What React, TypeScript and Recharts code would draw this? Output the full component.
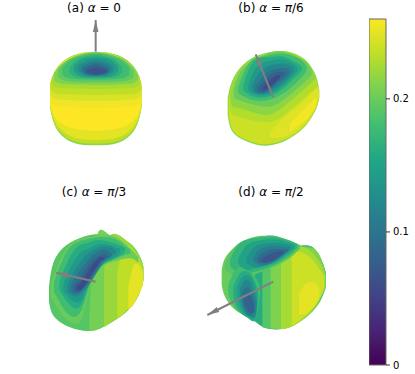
import { Area, Bar, BarChart, ComposedChart, Line, XAxis, YAxis } from "recharts";

type Row = [number, number, number]; // x, upper edge, lower edge
type Layer = { v: number; pts: Row[] };

const viridis = ["#440154", "#482475", "#414487", "#355f8d", "#2a788e", "#21918c", "#22a884", "#44bf70", "#7ad151", "#bddf26", "#fde725"];
const maxValue = 0.26;
const colorbarTicks = [0, 0.1, 0.2];
const colorbarData = [{ name: "c", value: maxValue }];

const panelA: Layer[] = [
  { v: 0.215, pts: [[60, 265, 320], [67, 232, 355], [85, 198, 395], [130, 166, 428], [197, 155, 436], [265, 166, 428], [310, 198, 395], [328, 232, 355], [335, 265, 320]] },
  { v: 0.235, pts: [[60, 265, 318], [67, 255, 351], [85, 250, 390], [130, 250, 423], [197, 250, 431], [265, 250, 423], [310, 250, 390], [328, 255, 351], [335, 265, 318]] },
  { v: 0.25, pts: [[60, 270, 315], [67, 265, 345], [85, 260, 380], [130, 260, 412], [197, 260, 420], [265, 260, 412], [310, 260, 380], [328, 265, 345], [335, 270, 315]] },
  { v: 0.26, pts: [[61, 280, 312], [68, 280, 335], [85, 280, 362], [130, 280, 385], [197, 280, 392], [265, 280, 385], [310, 280, 362], [327, 280, 335], [334, 280, 312]] },
  { v: 0.255, pts: [[61, 270, 298], [68, 240, 312], [100, 185, 320], [197, 156, 325], [292, 185, 320], [327, 240, 312], [334, 270, 298]] },
  { v: 0.245, pts: [[60, 255, 282], [70, 228, 294], [104, 185, 300], [197, 156, 303], [290, 185, 300], [325, 228, 294], [335, 255, 282]] },
  { v: 0.235, pts: [[61, 245, 268], [72, 225, 278], [108, 183, 283], [197, 157, 285], [287, 183, 283], [323, 225, 278], [334, 245, 268]] },
  { v: 0.225, pts: [[65, 232, 252], [78, 212, 262], [112, 181, 265], [197, 157, 267], [283, 181, 265], [317, 212, 262], [330, 232, 252]] },
  { v: 0.21, pts: [[72, 222, 240], [88, 200, 250], [122, 176, 253], [197, 157, 255], [273, 176, 253], [307, 200, 250], [323, 222, 240]] },
  { v: 0.195, pts: [[84, 212, 232], [100, 192, 241], [130, 172, 245], [197, 158, 247], [265, 172, 245], [295, 192, 241], [311, 212, 232]] },
  { v: 0.18, pts: [[97, 205, 224], [114, 186, 234], [143, 172, 238], [197, 160, 240], [252, 172, 238], [281, 186, 234], [298, 205, 224]] },
  { v: 0.165, pts: [[118, 202, 218], [132, 186, 229], [150, 175, 233], [197, 165, 235], [245, 175, 233], [263, 186, 229], [277, 202, 218]] },
  { v: 0.145, pts: [[131, 198, 214], [145, 185, 226], [165, 175, 231], [197, 172, 232], [230, 175, 231], [250, 185, 226], [264, 198, 214]] },
  { v: 0.125, pts: [[143, 198, 212], [157, 190, 223], [172, 182, 228], [198, 178, 229], [223, 182, 228], [238, 190, 223], [252, 198, 212]] },
  { v: 0.105, pts: [[153, 201, 213], [165, 195, 222], [180, 188, 226], [198, 185, 227], [215, 188, 226], [230, 195, 222], [242, 201, 213]] },
  { v: 0.085, pts: [[161, 205, 215], [172, 200, 221], [185, 195, 224], [198, 193, 225], [210, 195, 224], [223, 200, 221], [234, 205, 215]] },
  { v: 0.065, pts: [[170, 210, 218], [180, 207, 221], [190, 204, 223], [200, 203, 224], [210, 204, 223], [220, 207, 221], [230, 210, 218]] },
];

const panelB: Layer[] = [
  { v: 0.215, pts: [[53, 295, 345], [62, 255, 385], [85, 210, 412], [125, 175, 430], [165, 160, 437], [220, 153, 425], [280, 175, 385], [312, 215, 340], [322, 240, 318], [328, 270, 295]] },
  { v: 0.24, pts: [[56, 297, 342], [64, 280, 381], [86, 260, 408], [125, 240, 425], [165, 240, 433], [220, 240, 421], [280, 240, 382], [311, 250, 338], [321, 260, 316], [327, 270, 295]] },
  { v: 0.248, pts: [[180, 398, 412], [230, 345, 408], [275, 310, 378], [310, 270, 335], [326, 260, 298]] },
  { v: 0.256, pts: [[240, 372, 394], [270, 340, 374], [295, 315, 352], [318, 290, 318]] },
  { v: 0.23, pts: [[58, 290, 330], [70, 245, 345], [100, 197, 355], [165, 162, 367], [220, 155, 347], [280, 177, 297], [322, 245, 262]] },
  { v: 0.215, pts: [[62, 285, 310], [72, 245, 322], [100, 198, 328], [165, 162, 345], [220, 155, 320], [280, 178, 270], [315, 222, 238]] },
  { v: 0.2, pts: [[72, 270, 295], [100, 205, 305], [165, 164, 320], [220, 156, 300], [280, 181, 250], [305, 212, 225]] },
  { v: 0.18, pts: [[85, 260, 280], [120, 186, 298], [165, 168, 302], [220, 161, 280], [270, 178, 237], [290, 200, 212]] },
  { v: 0.16, pts: [[100, 255, 272], [130, 186, 290], [175, 172, 290], [220, 170, 265], [262, 190, 225], [275, 200, 212]] },
  { v: 0.14, pts: [[115, 255, 272], [140, 200, 285], [180, 182, 282], [225, 180, 252], [262, 200, 212]] },
  { v: 0.12, pts: [[125, 258, 272], [150, 215, 282], [185, 195, 272], [225, 192, 245], [250, 203, 214]] },
  { v: 0.1, pts: [[135, 262, 274], [160, 228, 280], [190, 208, 262], [225, 204, 235], [238, 209, 218]] },
  { v: 0.08, pts: [[145, 264, 274], [165, 240, 275], [190, 220, 255], [215, 215, 232], [225, 217, 224]] },
  { v: 0.06, pts: [[158, 263, 270], [175, 245, 265], [195, 228, 248], [210, 225, 233]] },
];

const panelC: Layer[] = [
  { v: 0.19, pts: [[57, 320, 365], [66, 262, 400], [85, 220, 422], [120, 188, 442], [180, 165, 453], [240, 165, 430], [300, 190, 385], [332, 235, 330], [340, 260, 300]] },
  { v: 0.205, pts: [[178, 400, 452], [200, 170, 450], [240, 166, 430], [300, 191, 385], [332, 236, 330], [340, 260, 300]] },
  { v: 0.22, pts: [[222, 300, 442], [240, 167, 430], [300, 192, 385], [332, 237, 330], [340, 262, 298]] },
  { v: 0.235, pts: [[262, 280, 416], [285, 200, 395], [320, 225, 350], [340, 270, 305]] },
  { v: 0.25, pts: [[295, 320, 390], [312, 255, 370], [330, 260, 335], [339, 280, 315]] },
  { v: 0.2, pts: [[62, 315, 350], [110, 205, 418], [150, 178, 425], [170, 172, 360], [200, 168, 275], [250, 168, 245], [300, 205, 235], [325, 232, 250]] },
  { v: 0.18, pts: [[72, 305, 335], [110, 215, 398], [145, 185, 405], [170, 178, 345], [200, 172, 272], [250, 175, 240], [285, 197, 225], [300, 208, 222]] },
  { v: 0.16, pts: [[88, 305, 330], [120, 230, 375], [150, 195, 380], [175, 188, 320], [205, 180, 262], [255, 190, 235], [285, 204, 216]] },
  { v: 0.14, pts: [[100, 312, 335], [125, 255, 360], [155, 215, 360], [180, 205, 295], [210, 192, 255], [255, 200, 232], [270, 205, 215]] },
  { v: 0.12, pts: [[112, 315, 335], [135, 270, 350], [170, 225, 325], [220, 200, 250], [258, 210, 220]] },
  { v: 0.1, pts: [[122, 316, 334], [140, 285, 342], [175, 240, 310], [215, 210, 250], [245, 220, 230]] },
  { v: 0.08, pts: [[130, 318, 332], [150, 295, 335], [180, 250, 295], [215, 225, 245], [232, 228, 236]] },
  { v: 0.06, pts: [[140, 315, 328], [155, 305, 328], [185, 258, 285], [210, 232, 245], [222, 234, 240]] },
];

const panelD: Layer[] = [
  { v: 0.2, pts: [[65, 270, 315], [75, 235, 350], [100, 205, 385], [130, 183, 405], [165, 170, 425], [200, 167, 445], [250, 175, 445], [290, 195, 430], [330, 198, 400], [360, 230, 365], [378, 280, 320]] },
  { v: 0.16, pts: [[165, 250, 424], [172, 200, 428], [190, 170, 440], [240, 172, 448], [290, 196, 430], [330, 198, 400], [360, 230, 362], [378, 280, 320]] },
  { v: 0.19, pts: [[187, 240, 440], [195, 180, 444], [240, 175, 447], [290, 198, 430], [330, 199, 400], [360, 232, 358], [377, 280, 320]] },
  { v: 0.21, pts: [[212, 230, 445], [225, 190, 446], [260, 180, 445], [300, 200, 425], [340, 205, 392], [364, 238, 352], [377, 280, 320]] },
  { v: 0.225, pts: [[243, 220, 447], [255, 190, 446], [285, 195, 435], [320, 205, 405], [355, 240, 365], [376, 285, 320]] },
  { v: 0.24, pts: [[275, 230, 438], [285, 215, 432], [320, 225, 405], [350, 255, 372], [372, 290, 325]] },
  { v: 0.25, pts: [[297, 340, 405], [320, 310, 398], [345, 310, 372], [358, 330, 350]] },
  { v: 0.19, pts: [[75, 250, 268], [110, 195, 290], [160, 173, 285], [210, 168, 265], [260, 178, 240], [300, 195, 206]] },
  { v: 0.17, pts: [[90, 240, 258], [120, 190, 280], [165, 175, 275], [215, 170, 258], [260, 180, 232], [292, 192, 204]] },
  { v: 0.15, pts: [[115, 236, 252], [140, 195, 270], [175, 182, 262], [220, 178, 250], [260, 185, 225], [285, 193, 204]] },
  { v: 0.13, pts: [[140, 232, 248], [165, 200, 262], [200, 190, 255], [240, 190, 233], [275, 196, 206]] },
  { v: 0.11, pts: [[160, 233, 246], [180, 208, 255], [215, 198, 250], [250, 200, 225], [268, 201, 210]] },
  { v: 0.09, pts: [[172, 234, 246], [195, 215, 250], [225, 207, 240], [250, 208, 222], [262, 208, 216]] },
  { v: 0.07, pts: [[182, 238, 247], [205, 225, 247], [230, 215, 235], [250, 215, 222]] },
  { v: 0.18, pts: [[85, 315, 345], [110, 265, 390], [140, 270, 410], [165, 290, 420], [180, 320, 345]] },
  { v: 0.16, pts: [[100, 320, 350], [120, 280, 395], [145, 275, 415], [165, 305, 420], [175, 340, 360]] },
  { v: 0.14, pts: [[112, 320, 350], [128, 290, 395], [150, 290, 412], [165, 320, 415], [172, 350, 370]] },
  { v: 0.12, pts: [[120, 328, 352], [135, 300, 398], [152, 310, 410], [165, 345, 410], [170, 365, 385]] },
  { v: 0.1, pts: [[126, 338, 362], [140, 320, 398], [155, 335, 405], [166, 370, 390]] },
  { v: 0.08, pts: [[133, 355, 375], [145, 345, 395], [155, 355, 400], [162, 375, 395]] },
];

const arrowA = [{ x: 197, y: 155 }, { x: 197, y: 60 }];
const arrowB = [{ x: 190, y: 292 }, { x: 137, y: 163 }];
const arrowC = [{ x: 197, y: 305 }, { x: 78, y: 278 }];
const arrowD = [{ x: 220, y: 305 }, { x: 22, y: 405 }];

function color(v: number) {
  const t = (Math.min(v, maxValue) / maxValue) * (viridis.length - 1);
  const i = Math.min(Math.floor(t), viridis.length - 2);
  const f = t - i;
  const ch = (hex: string, p: number) => parseInt(hex.slice(p, p + 2), 16);
  const mix = (p: number) => Math.round(ch(viridis[i], p) * (1 - f) + ch(viridis[i + 1], p) * f);
  return `rgb(${mix(1)},${mix(3)},${mix(5)})`;
}

function Panel({ layers, arrow, left, top }: { layers: Layer[]; arrow: { x: number; y: number }[]; left: number; top: number }) {
  const angle = (Math.atan2(arrow[1].y - arrow[0].y, arrow[1].x - arrow[0].x) * 180) / Math.PI;
  return (
    <div style={{ position: "absolute", left, top, filter: "blur(0.45px)" }}>
      <ComposedChart width={140} height={160} margin={{ top: 0, right: 0, bottom: 0, left: 0 }}>
        <XAxis type="number" dataKey="x" domain={[0, 420]} hide allowDataOverflow />
        <YAxis type="number" domain={[0, 480]} reversed hide allowDataOverflow />
        {layers.map((l, i) => (
          <Area
            key={i}
            data={l.pts.map(([x, lo, hi]) => ({ x, r: [lo, hi] }))}
            dataKey="r"
            type="natural"
            fill={color(l.v)}
            fillOpacity={1}
            stroke="none"
            dot={false}
            activeDot={false}
            isAnimationActive={false}
          />
        ))}
        <Line
          data={arrow}
          dataKey="y"
          type="linear"
          stroke="#808080"
          strokeWidth={2}
          activeDot={false}
          isAnimationActive={false}
          dot={(p: any) =>
            p.index === 1 ? (
              <polygon
                key="head"
                points="0,0 -12,-2.8 -12,2.8"
                fill="#808080"
                transform={`translate(${p.cx} ${p.cy}) rotate(${angle})`}
              />
            ) : (
              <g key="tail" />
            )
          }
        />
      </ComposedChart>
    </div>
  );
}

function Title({ label, sym, value, x, y }: { label: string; sym?: string; value: string; x: number; y: number }) {
  return (
    <div style={{ position: "absolute", left: x - 60, top: y - 8, width: 120, textAlign: "center", font: "12px/16px 'DejaVu Sans'", color: "#000", whiteSpace: "pre" }}>
      {label} <i>α</i> = {sym ? <i>{sym}</i> : null}{value}
    </div>
  );
}

export default function App() {
  return (
    <div style={{ position: "absolute", left: 0, top: 0, width: 415, height: 374, background: "#fff", overflow: "hidden" }}>
      <Panel layers={panelA} arrow={arrowA} left={30} top={0} />
      <Panel layers={panelB} arrow={arrowB} left={210} top={0} />
      <Panel layers={panelC} arrow={arrowC} left={30} top={180} />
      <Panel layers={panelD} arrow={arrowD} left={200} top={180} />
      <Title label="(a)" value="0" x={94} y={8} />
      <Title label="(b)" sym="π" value="/6" x={271} y={8} />
      <Title label="(c)" sym="π" value="/3" x={94} y={192} />
      <Title label="(d)" sym="π" value="/2" x={271} y={192} />
      <div style={{ position: "absolute", left: 369, top: 14 }}>
        <BarChart width={46} height={356} data={colorbarData} margin={{ top: 5, right: 0, bottom: 5, left: 0 }} barCategoryGap={0}>
          <defs>
            <linearGradient id="viridisBar" x1="0" y1="1" x2="0" y2="0">
              {viridis.map((c, i) => (
                <stop key={c} offset={`${(i * 100) / (viridis.length - 1)}%`} stopColor={c} />
              ))}
            </linearGradient>
          </defs>
          <XAxis dataKey="name" hide />
          <YAxis
            orientation="right"
            width={29}
            domain={[0, maxValue]}
            ticks={colorbarTicks}
            interval={0}
            axisLine={false}
            tickSize={4}
            tickLine={{ stroke: "#333" }}
            tick={{ fontSize: 10, fontFamily: "DejaVu Sans", fill: "#000", dx: 1 }}
            tickFormatter={(v: number) => String(v)}
          />
          <Bar dataKey="value" fill="url(#viridisBar)" stroke="#666" strokeWidth={1} isAnimationActive={false} />
        </BarChart>
      </div>
    </div>
  );
}
